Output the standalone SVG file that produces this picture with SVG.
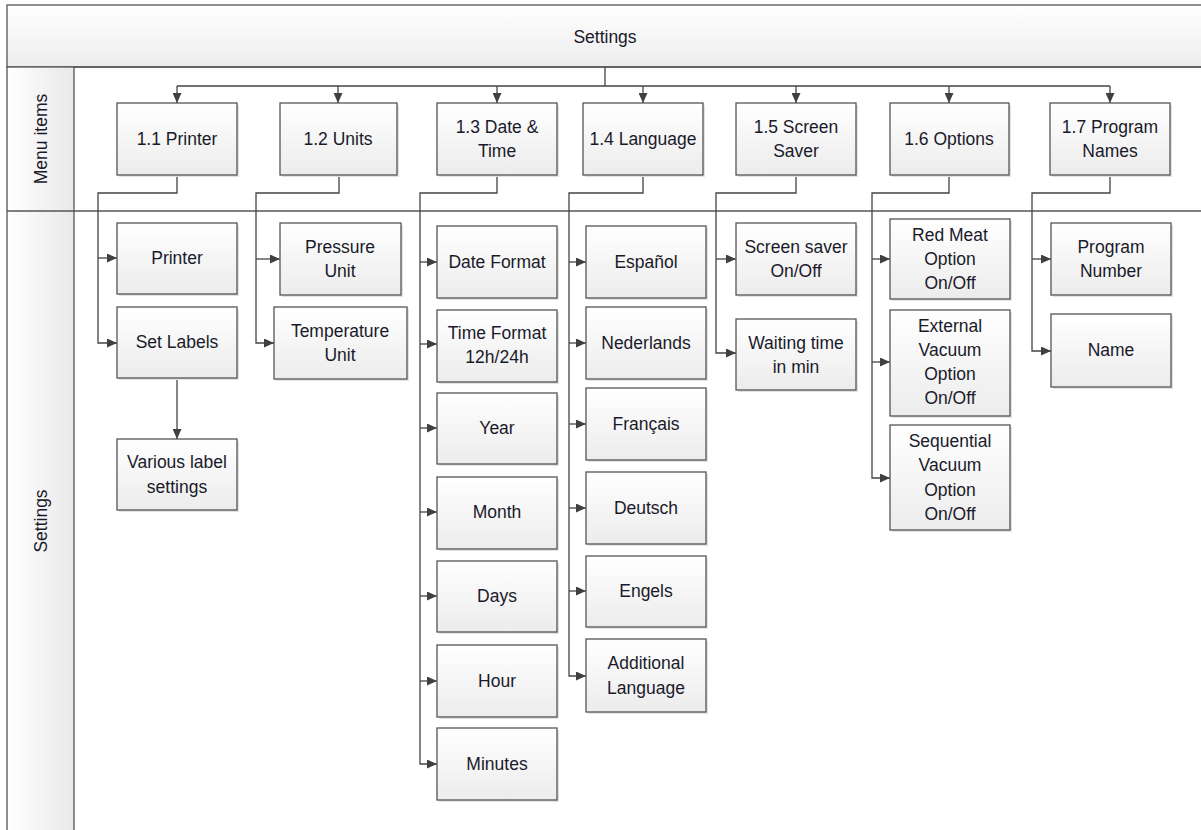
<svg xmlns="http://www.w3.org/2000/svg" width="1201" height="830" viewBox="0 0 1201 830">
<defs>
<linearGradient id="gBox" x1="0" y1="0" x2="0" y2="1">
<stop offset="0" stop-color="#ffffff"/>
<stop offset="1" stop-color="#ececec"/>
</linearGradient>
<linearGradient id="gHead" x1="0" y1="0" x2="0" y2="1">
<stop offset="0" stop-color="#ffffff"/>
<stop offset="1" stop-color="#ededed"/>
</linearGradient>
<linearGradient id="gLane" x1="0" y1="0" x2="1" y2="0">
<stop offset="0" stop-color="#ffffff"/>
<stop offset="1" stop-color="#e9e9e9"/>
</linearGradient>
<marker id="arr" markerUnits="userSpaceOnUse" markerWidth="11" markerHeight="9" refX="10" refY="4.5" orient="auto">
<path d="M0,0 L10,4.5 L0,9 z" fill="#404040"/>
</marker>
</defs>
<style>
.box{fill:url(#gBox);stroke:#555;stroke-width:1.3}
.sh{fill:#e2e2e2}
.t{font-family:"Liberation Sans",Arial,sans-serif;font-size:17.5px;fill:#1a1a2a;text-anchor:middle;dominant-baseline:central}
.c{fill:none;stroke:#444;stroke-width:1.3}
.a{fill:none;stroke:#444;stroke-width:1.3;marker-end:url(#arr)}
.frame{stroke:#555;stroke-width:1.3}
</style>
<rect x="0" y="0" width="1201" height="830" fill="#ffffff"/>
<g id="pool">
<rect x="7" y="5" width="1200" height="62" fill="url(#gHead)" class="frame"/>
<rect x="7" y="67" width="67" height="770" fill="url(#gLane)" class="frame"/>
<line x1="7" y1="211" x2="1201" y2="211" class="frame"/>
<line x1="74" y1="67" x2="1201" y2="67" class="frame"/>
<text class="t" x="605" y="37">Settings</text>
<text class="t" transform="translate(41,139) rotate(-90)">Menu items</text>
<text class="t" transform="translate(41,521) rotate(-90)">Settings</text>
</g>
<g id="connectors">
<path class="c" d="M605,67 V86 M177,86 H1110"/>
<path class="a" d="M177,86 V103"/>
<path class="a" d="M338,86 V103"/>
<path class="a" d="M497,86 V103"/>
<path class="a" d="M643,86 V103"/>
<path class="a" d="M796,86 V103"/>
<path class="a" d="M949,86 V103"/>
<path class="a" d="M1110,86 V103"/>
<path class="a" d="M177,175 V193 H98 V343 H117"/>
<path class="a" d="M98,258 H117"/>
<path class="a" d="M177,378 V439"/>
<path class="a" d="M339,175 V193 H256 V343 H274"/>
<path class="a" d="M256,259 H280"/>
<path class="a" d="M497,175 V193 H420 V764 H437"/>
<path class="a" d="M420,262 H437"/>
<path class="a" d="M420,344 H437"/>
<path class="a" d="M420,428 H437"/>
<path class="a" d="M420,512 H437"/>
<path class="a" d="M420,596 H437"/>
<path class="a" d="M420,681 H437"/>
<path class="a" d="M643,175 V193 H569 V676 H586"/>
<path class="a" d="M569,262 H586"/>
<path class="a" d="M569,343 H586"/>
<path class="a" d="M569,424 H586"/>
<path class="a" d="M569,508 H586"/>
<path class="a" d="M569,591 H586"/>
<path class="a" d="M796,175 V193 H716 V353 H736"/>
<path class="a" d="M716,259 H736"/>
<path class="a" d="M949,175 V193 H872 V478 H890"/>
<path class="a" d="M872,259 H890"/>
<path class="a" d="M872,362 H890"/>
<path class="a" d="M1110,175 V193 H1032 V351 H1051"/>
<path class="a" d="M1032,259 H1051"/>
</g>
<g id="n11"><rect class="sh" x="119" y="105" width="120" height="72"/><rect class="box" x="117" y="103" width="120" height="72"/><text class="t" x="177" y="139">1.1 Printer</text></g>
<g id="n12"><rect class="sh" x="282" y="105" width="117" height="72"/><rect class="box" x="280" y="103" width="117" height="72"/><text class="t" x="338" y="139">1.2 Units</text></g>
<g id="n13"><rect class="sh" x="439" y="105" width="120" height="72"/><rect class="box" x="437" y="103" width="120" height="72"/><text class="t" x="497" y="127">1.3 Date &amp;</text><text class="t" x="497" y="151">Time</text></g>
<g id="n14"><rect class="sh" x="585" y="105" width="120" height="72"/><rect class="box" x="583" y="103" width="120" height="72"/><text class="t" x="643" y="139">1.4 Language</text></g>
<g id="n15"><rect class="sh" x="738" y="105" width="120" height="72"/><rect class="box" x="736" y="103" width="120" height="72"/><text class="t" x="796" y="127">1.5 Screen</text><text class="t" x="796" y="151">Saver</text></g>
<g id="n16"><rect class="sh" x="892" y="105" width="119" height="72"/><rect class="box" x="890" y="103" width="119" height="72"/><text class="t" x="949" y="139">1.6 Options</text></g>
<g id="n17"><rect class="sh" x="1052" y="105" width="120" height="72"/><rect class="box" x="1050" y="103" width="120" height="72"/><text class="t" x="1110" y="127">1.7 Program</text><text class="t" x="1110" y="151">Names</text></g>
<g id="printer"><rect class="sh" x="119" y="225" width="120" height="71"/><rect class="box" x="117" y="223" width="120" height="71"/><text class="t" x="177" y="258">Printer</text></g>
<g id="setlabels"><rect class="sh" x="119" y="309" width="120" height="71"/><rect class="box" x="117" y="307" width="120" height="71"/><text class="t" x="177" y="342">Set Labels</text></g>
<g id="various"><rect class="sh" x="119" y="441" width="120" height="71"/><rect class="box" x="117" y="439" width="120" height="71"/><text class="t" x="177" y="462">Various label</text><text class="t" x="177" y="487">settings</text></g>
<g id="pressure"><rect class="sh" x="282" y="225" width="121" height="72"/><rect class="box" x="280" y="223" width="121" height="72"/><text class="t" x="340" y="247">Pressure</text><text class="t" x="340" y="271">Unit</text></g>
<g id="temperature"><rect class="sh" x="276" y="309" width="133" height="72"/><rect class="box" x="274" y="307" width="133" height="72"/><text class="t" x="340" y="331">Temperature</text><text class="t" x="340" y="355">Unit</text></g>
<g id="dateformat"><rect class="sh" x="439" y="228" width="120" height="72"/><rect class="box" x="437" y="226" width="120" height="72"/><text class="t" x="497" y="262">Date Format</text></g>
<g id="timeformat"><rect class="sh" x="439" y="312" width="120" height="72"/><rect class="box" x="437" y="310" width="120" height="72"/><text class="t" x="497" y="333">Time Format</text><text class="t" x="497" y="357">12h/24h</text></g>
<g id="year"><rect class="sh" x="439" y="395" width="120" height="71"/><rect class="box" x="437" y="393" width="120" height="71"/><text class="t" x="497" y="428">Year</text></g>
<g id="month"><rect class="sh" x="439" y="479" width="120" height="72"/><rect class="box" x="437" y="477" width="120" height="72"/><text class="t" x="497" y="512">Month</text></g>
<g id="days"><rect class="sh" x="439" y="563" width="120" height="71"/><rect class="box" x="437" y="561" width="120" height="71"/><text class="t" x="497" y="596">Days</text></g>
<g id="hour"><rect class="sh" x="439" y="647" width="120" height="72"/><rect class="box" x="437" y="645" width="120" height="72"/><text class="t" x="497" y="681">Hour</text></g>
<g id="minutes"><rect class="sh" x="439" y="730" width="120" height="72"/><rect class="box" x="437" y="728" width="120" height="72"/><text class="t" x="497" y="764">Minutes</text></g>
<g id="espanol"><rect class="sh" x="588" y="228" width="120" height="72"/><rect class="box" x="586" y="226" width="120" height="72"/><text class="t" x="646" y="262">Español</text></g>
<g id="nederlands"><rect class="sh" x="588" y="309" width="120" height="72"/><rect class="box" x="586" y="307" width="120" height="72"/><text class="t" x="646" y="343">Nederlands</text></g>
<g id="francais"><rect class="sh" x="588" y="390" width="120" height="72"/><rect class="box" x="586" y="388" width="120" height="72"/><text class="t" x="646" y="424">Français</text></g>
<g id="deutsch"><rect class="sh" x="588" y="474" width="120" height="72"/><rect class="box" x="586" y="472" width="120" height="72"/><text class="t" x="646" y="508">Deutsch</text></g>
<g id="engels"><rect class="sh" x="588" y="558" width="120" height="71"/><rect class="box" x="586" y="556" width="120" height="71"/><text class="t" x="646" y="591">Engels</text></g>
<g id="additional"><rect class="sh" x="588" y="641" width="120" height="73"/><rect class="box" x="586" y="639" width="120" height="73"/><text class="t" x="646" y="663">Additional</text><text class="t" x="646" y="688">Language</text></g>
<g id="screensaver"><rect class="sh" x="738" y="225" width="120" height="72"/><rect class="box" x="736" y="223" width="120" height="72"/><text class="t" x="796" y="247">Screen saver</text><text class="t" x="796" y="271">On/Off</text></g>
<g id="waiting"><rect class="sh" x="738" y="321" width="120" height="71"/><rect class="box" x="736" y="319" width="120" height="71"/><text class="t" x="796" y="343">Waiting time</text><text class="t" x="796" y="367">in min</text></g>
<g id="redmeat"><rect class="sh" x="892" y="221" width="120" height="80"/><rect class="box" x="890" y="219" width="120" height="80"/><text class="t" x="950" y="235">Red Meat</text><text class="t" x="950" y="259">Option</text><text class="t" x="950" y="283">On/Off</text></g>
<g id="external"><rect class="sh" x="892" y="312" width="120" height="106"/><rect class="box" x="890" y="310" width="120" height="106"/><text class="t" x="950" y="326">External</text><text class="t" x="950" y="350">Vacuum</text><text class="t" x="950" y="374">Option</text><text class="t" x="950" y="398">On/Off</text></g>
<g id="sequential"><rect class="sh" x="892" y="427" width="120" height="105"/><rect class="box" x="890" y="425" width="120" height="105"/><text class="t" x="950" y="441">Sequential</text><text class="t" x="950" y="465">Vacuum</text><text class="t" x="950" y="490">Option</text><text class="t" x="950" y="514">On/Off</text></g>
<g id="prognumber"><rect class="sh" x="1053" y="225" width="120" height="72"/><rect class="box" x="1051" y="223" width="120" height="72"/><text class="t" x="1111" y="247">Program</text><text class="t" x="1111" y="271">Number</text></g>
<g id="name"><rect class="sh" x="1053" y="316" width="120" height="73"/><rect class="box" x="1051" y="314" width="120" height="73"/><text class="t" x="1111" y="350">Name</text></g>
</svg>
